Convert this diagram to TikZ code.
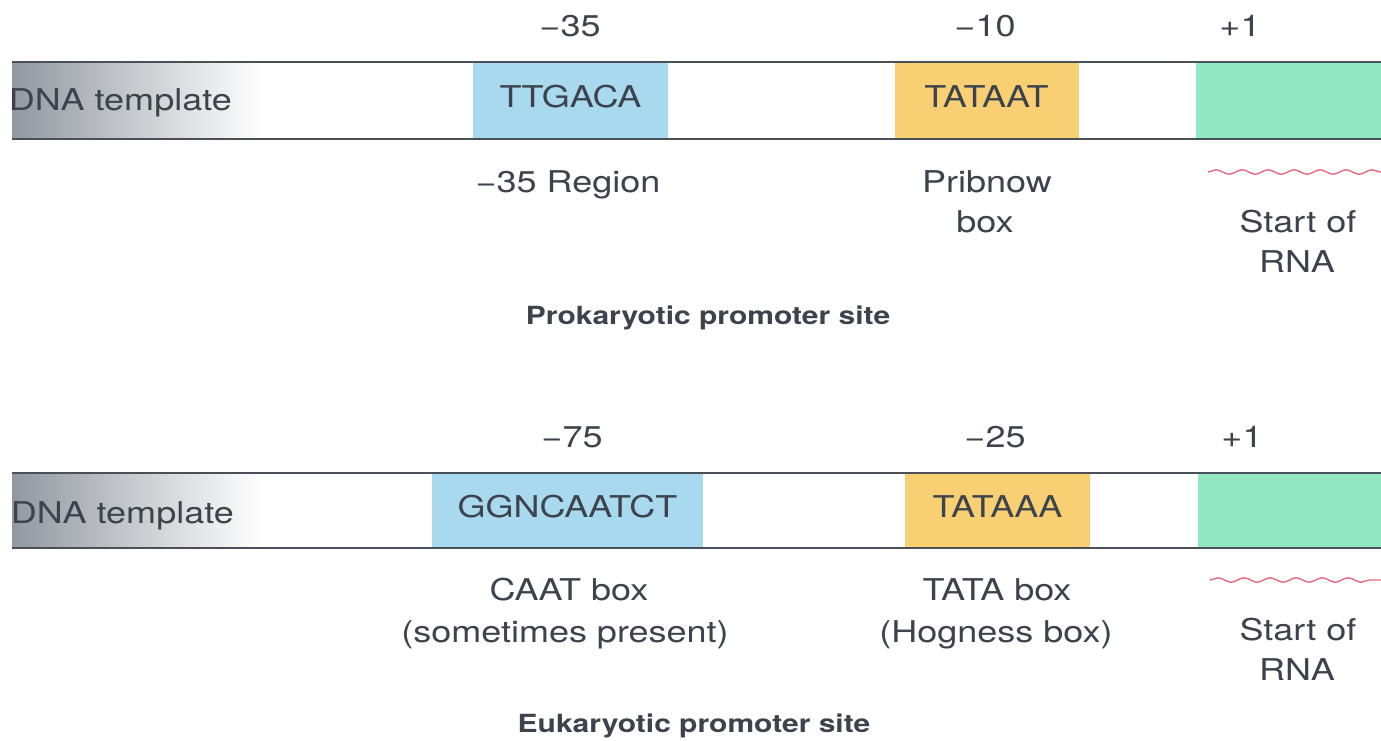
\documentclass[tikz,border=0pt]{standalone}
\usepackage{fontspec}
\setmainfont[FakeStretch=1.2]{TeX Gyre Heros}
\usetikzlibrary{decorations.pathmorphing}
\definecolor{ink}{HTML}{3C434C}
\definecolor{strandc}{HTML}{4A5058}
\definecolor{cblue}{HTML}{A8D9EE}
\definecolor{corange}{HTML}{F8CF72}
\definecolor{cgreen}{HTML}{93E7C3}
\definecolor{crna}{HTML}{E46A7E}
\definecolor{cshade}{HTML}{9298A0}
\begin{document}
\begin{tikzpicture}[x=1pt,y=-1pt,
  lbl/.style={text=ink,font=\fontsize{30}{36}\selectfont,inner sep=0pt,anchor=base},
  title/.style={text=ink,font=\bfseries\fontsize{25}{30}\selectfont,inner sep=0pt,anchor=base},
  seqbox/.style={draw=none,inner sep=0pt,minimum height=77pt,text=ink,
                 font=\fontsize{30}{36}\selectfont},
  strand/.style={draw=strandc,line width=2.4pt},
  rna/.style={draw=crna,line width=1.4pt,decorate,
              decoration={snake,segment length=26pt,amplitude=2.2pt}}]
\useasboundingbox (0,0) rectangle (1381,741);
\clip (0,0) rectangle (1381,741);
\fill[white] (0,0) rectangle (1381,741);

% ---------------- prokaryotic promoter ----------------
\shade[left color=cshade,right color=white] (12,62) rectangle (262,139);
\node[seqbox,fill=cblue,minimum width=195pt] (p35) at (570.5,100.5) {\strut TTGACA};
\node[seqbox,fill=corange,minimum width=184pt] (p10) at (986.5,100.5) {\strut TATAAT};
\node[seqbox,fill=cgreen,minimum width=190pt] (p1) at (1291,100.5) {};
\coordinate (pa) at (12,62);  \coordinate (pb) at (1381,62);
\coordinate (pc) at (12,139); \coordinate (pd) at (1381,139);
\draw[strand] (pa) -- (pb);
\draw[strand] (pc) -- (pd);
\node[lbl,anchor=base east] (pdna) at (232,111) {DNA template};

\node[lbl] (pm35) at (570,37) {−35};
\node[lbl] (pm10) at (985,37) {−10};
\node[lbl] (pp1)  at (1240,37) {+1};

\node[lbl] (preg) at (568,192) {−35 Region};
\node[lbl] (ppri) at (987,192) {Pribnow};
\node[lbl] (pbox) at (985,232) {box};
\coordinate (prs) at (1208,172); \coordinate (pre) at (1381,172);
\draw[rna] (prs) -- (pre);
\node[lbl] (pst) at (1298,232) {Start of};
\node[lbl] (prna) at (1297,272) {RNA};
\node[title] (ptitle) at (708,324) {Prokaryotic promoter site};

% ---------------- eukaryotic promoter ----------------
\shade[left color=cshade,right color=white] (12,473) rectangle (262,548);
\node[seqbox,fill=cblue,minimum width=271pt,minimum height=75pt] (e75) at (567.5,510.5) {\strut GGNCAATCT};
\node[seqbox,fill=corange,minimum width=185pt,minimum height=75pt] (e25) at (997.5,510.5) {\strut TATAAA};
\node[seqbox,fill=cgreen,minimum width=183pt,minimum height=75pt] (e1) at (1289.5,510.5) {};
\coordinate (ea) at (12,473);  \coordinate (eb) at (1381,473);
\coordinate (ec) at (12,548); \coordinate (ed) at (1381,548);
\draw[strand] (ea) -- (eb);
\draw[strand] (ec) -- (ed);
\node[lbl,anchor=base east] (edna) at (234,523) {DNA template};

\node[lbl] (em75) at (572,447) {−75};
\node[lbl] (em25) at (995,447) {−25};
\node[lbl] (ep1)  at (1242,447) {+1};

\node[lbl] (ecaat) at (569,600) {CAAT box};
\node[lbl] (esome) at (565,642) {(sometimes present)};
\node[lbl] (etata) at (997,600) {TATA box};
\node[lbl] (ehog)  at (996,642) {(Hogness box)};
\coordinate (ers) at (1210,580); \coordinate (ere) at (1381,580);
\draw[rna] (ers) -- (ere);
\node[lbl] (est) at (1298,640) {Start of};
\node[lbl] (erna) at (1297,680) {RNA};
\node[title] (etitle) at (694,732) {Eukaryotic promoter site};
\end{tikzpicture}
\end{document}
